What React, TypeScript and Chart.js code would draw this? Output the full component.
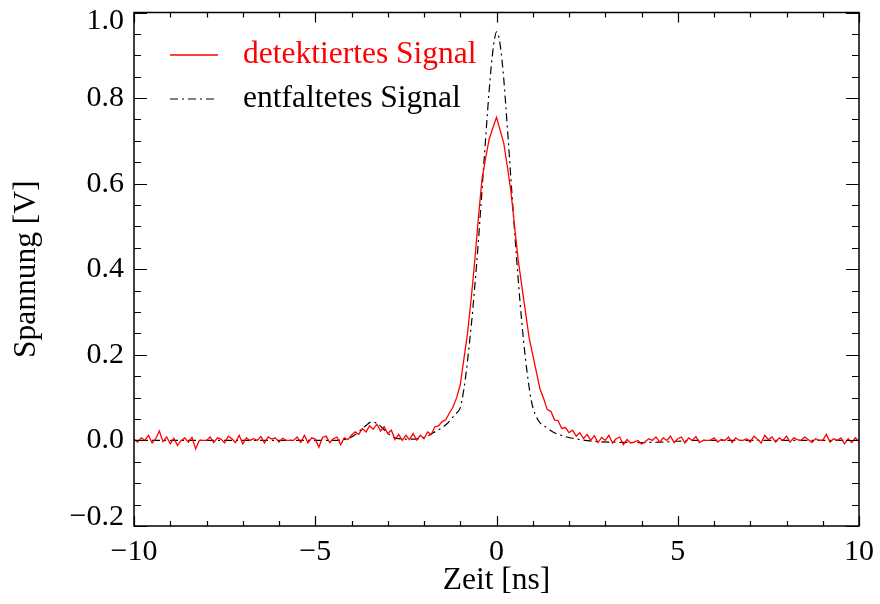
import React, { useEffect, useRef } from "react";
import { Chart, registerables } from "chart.js";

Chart.register(...registerables);

const FONT = "'Liberation Serif', 'Times New Roman', serif";

// axis tick labels
const xTickValues = [-10, -5, 0, 5, 10];
const yTickValues = [-0.2, 0.0, 0.2, 0.4, 0.6, 0.8, 1.0];

const xTitle = "Zeit [ns]";
const yTitle = "Spannung [V]";
const seriesNames = ["detektiertes Signal", "entfaltetes Signal"];

// detected signal: sampled every 0.1 ns from -10 ns to 10 ns
const detectedStart = -10;
const detectedStep = 0.1;
const detectedValues = [
  0.003, -0.004, 0.006, 0.0, 0.012, -0.006, 0.004, 0.022, -0.003, 0.008,
  -0.008, 0.005, -0.012, 0.0, 0.006, -0.004, 0.007, -0.02, 0.0, 0.0,
  0.0, 0.008, -0.005, 0.006, 0.003, -0.006, 0.01, 0.004, -0.005, 0.012,
  -0.008, 0.006, 0.0, 0.004, 0.0, 0.009, -0.006, 0.008, 0.003, 0.006,
  -0.004, 0.005, 0.0, 0.0, 0.0, 0.008, -0.005, 0.012, -0.006, 0.006,
  0.003, -0.016, 0.007, 0.01, -0.005, 0.004, 0.008, -0.01, 0.006, 0.002,
  0.012, 0.02, 0.014, 0.028, 0.02, 0.034, 0.026, 0.038, 0.022, 0.032,
  0.016, 0.024, 0.002, 0.014, 0.0, 0.012, 0.002, 0.016, 0.001, 0.012,
  0.004, 0.02, 0.014, 0.032, 0.034, 0.044, 0.048, 0.064, 0.078, 0.1,
  0.13, 0.19, 0.25, 0.33, 0.42, 0.52, 0.61, 0.66, 0.705, 0.73,
  0.755,
  0.725, 0.695, 0.64, 0.58, 0.5, 0.42, 0.36, 0.3, 0.24, 0.2,
  0.16, 0.12, 0.098, 0.072, 0.068, 0.048, 0.046, 0.028, 0.03, 0.018,
  0.024, 0.01, 0.018, 0.004, 0.014, 0.0, 0.011, -0.005, 0.007, 0.0,
  0.012, -0.006, 0.004, 0.008, -0.01, 0.002, -0.006, -0.004, 0.0, -0.008,
  -0.003, 0.004, 0.0, 0.008, -0.004, 0.006, 0.0, 0.01, -0.005, 0.004,
  0.008, -0.006, 0.006, 0.0, 0.009, -0.005, 0.0, 0.0, 0.0, 0.006,
  -0.004, 0.002, 0.0, 0.008, -0.005, 0.006, 0.0, 0.0, 0.004, -0.004,
  0.01, 0.003, -0.006, 0.012, 0.002, 0.008, -0.004, 0.006, 0.0, 0.01,
  -0.004, 0.006, 0.002, 0.0, 0.008, 0.002, -0.005, 0.004, 0.0, 0.0,
  0.014, -0.004, 0.004, 0.0, 0.006, -0.008, 0.004, -0.005, 0.006, -0.003,
];

// unfolded (deconvolved) signal
const unfoldedTimes = [
  -10, -8, -6, -5, -4.5, -4.2, -4.0, -3.8, -3.6, -3.45, -3.3, -3.1, -2.9, -2.7,
  -2.4, -2.1, -1.9, -1.7, -1.5, -1.35, -1.2, -1.1, -1.0, -0.95, -0.9, -0.85,
  -0.8, -0.75, -0.7, -0.65, -0.6, -0.55, -0.5, -0.45, -0.4, -0.35, -0.3, -0.25,
  -0.2, -0.15, -0.1, -0.05, 0.0, 0.05, 0.1, 0.15, 0.2, 0.25, 0.3, 0.35, 0.4,
  0.45, 0.5, 0.55, 0.6, 0.65, 0.7, 0.75, 0.8, 0.85, 0.9, 0.95, 1.0, 1.15, 1.38,
  1.6, 1.94, 2.3, 2.66, 3.2, 4.0, 4.5, 5.0, 5.5, 6, 8, 10,
];
const unfoldedValues = [
  0, 0, 0, 0, 0, 0.002, 0.008, 0.02, 0.035, 0.043, 0.04, 0.025, 0.01, 0.004,
  0.003, 0.005, 0.01, 0.02, 0.03, 0.04, 0.055, 0.064, 0.076, 0.095, 0.12, 0.15,
  0.185, 0.225, 0.265, 0.31, 0.36, 0.41, 0.465, 0.525, 0.585, 0.645, 0.705, 0.765,
  0.82, 0.87, 0.91, 0.94, 0.955, 0.948, 0.925, 0.89, 0.845, 0.79, 0.73, 0.67, 0.608,
  0.548, 0.488, 0.43, 0.375, 0.322, 0.274, 0.23, 0.19, 0.155, 0.124, 0.098, 0.078, 0.047, 0.03,
  0.018, 0.008, 0.002, -0.002, -0.004, -0.005, -0.004, -0.002, 0, 0, 0, 0,
];

const fmtMinus = (s: string) => s.replace("-", "\u2212");

const framePlugin = {
  id: "frameTicks",
  afterDatasetsDraw(chart: any) {
    const { ctx, chartArea: a, scales } = chart;
    const xs = scales.x;
    const ys = scales.y;
    ctx.save();
    ctx.strokeStyle = "#000";
    ctx.lineWidth = 1.5;
    ctx.strokeRect(a.left, a.top, a.right - a.left, a.bottom - a.top);
    ctx.lineWidth = 1.2;
    ctx.beginPath();
    for (let v = xs.min; v <= xs.max; v += 1) {
      const px = Math.round(xs.getPixelForValue(v)) + 0.5;
      const len = Math.round(v) % 5 === 0 ? 10 : 5;
      ctx.moveTo(px, a.bottom);
      ctx.lineTo(px, a.bottom - len);
      ctx.moveTo(px, a.top);
      ctx.lineTo(px, a.top + len);
    }
    const kMin = Math.round(ys.min / 0.05);
    const kMax = Math.round(ys.max / 0.05);
    for (let k = kMin; k <= kMax; k++) {
      const py = Math.round(ys.getPixelForValue(k * 0.05)) + 0.5;
      const len = k % 4 === 0 ? 13 : 7;
      ctx.moveTo(a.left, py);
      ctx.lineTo(a.left + len, py);
      ctx.moveTo(a.right, py);
      ctx.lineTo(a.right - len, py);
    }
    ctx.stroke();

    // legend
    const ds = chart.data.datasets;
    const rows = [55, 99];
    ctx.font = `31.5px ${FONT}`;
    ctx.textBaseline = "middle";
    ctx.textAlign = "left";
    ds.forEach((d: any, i: number) => {
      const y = rows[i];
      ctx.beginPath();
      ctx.strokeStyle = d.borderColor;
      ctx.lineWidth = d.borderWidth;
      ctx.setLineDash(d.borderDash || []);
      ctx.moveTo(170, y);
      ctx.lineTo(218, y);
      ctx.stroke();
      ctx.setLineDash([]);
      ctx.fillStyle = d.borderColor;
      ctx.fillText(d.label, 243, y);
    });
    ctx.restore();
  },
};

export default function App() {
  const ref = useRef<HTMLCanvasElement | null>(null);
  useEffect(() => {
    if (!ref.current) return;
    const detected = detectedValues.map((y, i) => ({
      x: detectedStart + i * detectedStep,
      y,
    }));
    const unfolded = unfoldedTimes.map((x, i) => ({ x, y: unfoldedValues[i] }));
    const yMin = yTickValues[0];
    const yMax = yTickValues[yTickValues.length - 1];
    const chart = new Chart(ref.current, {
      type: "line",
      data: {
        datasets: [
          {
            label: seriesNames[0],
            data: detected,
            borderColor: "#ff0000",
            borderWidth: 1.3,
            pointRadius: 0,
            tension: 0,
          },
          {
            label: seriesNames[1],
            data: unfolded,
            borderColor: "#000000",
            borderWidth: 1.2,
            borderDash: [8, 4, 2, 4],
            pointRadius: 0,
            tension: 0.4,
            cubicInterpolationMode: "monotone",
          },
        ],
      },
      options: {
        animation: false,
        responsive: false,
        devicePixelRatio: 1,
        layout: { padding: { top: 12.5, right: 21, left: 0, bottom: 0 } },
        plugins: { legend: { display: false }, tooltip: { enabled: false } },
        scales: {
          x: {
            type: "linear",
            min: -10,
            max: 10,
            afterBuildTicks: (s: any) => {
              s.ticks = xTickValues.map((v) => ({ value: v }));
            },
            afterFit: (s: any) => {
              s.height = 78;
              s.paddingLeft = 0;
              s.paddingRight = 0;
            },
            grid: { display: false, drawTicks: false },
            border: { display: false },
            ticks: {
              color: "#000",
              font: { family: FONT, size: 30 },
              padding: 8,
              maxRotation: 0,
              callback: (v: any) => fmtMinus(String(v)),
            },
            title: {
              display: true,
              text: xTitle,
              color: "#000",
              font: { family: FONT, size: 31.5 },
              padding: { top: 0, bottom: 4 },
            },
          },
          y: {
            type: "linear",
            min: yMin,
            max: yMax,
            afterBuildTicks: (s: any) => {
              s.ticks = yTickValues.map((v) => ({ value: v }));
            },
            afterFit: (s: any) => {
              s.width = 134;
              s.paddingTop = 0;
              s.paddingBottom = 0;
            },
            grid: { display: false, drawTicks: false },
            border: { display: false },
            ticks: {
              color: "#000",
              font: { family: FONT, size: 30, lineHeight: 0.6 },
              padding: 10,
              callback: (v: any) => {
                const n = Number(v);
                const r = Math.round(n * 10) / 10;
                const txt = fmtMinus((r === 0 ? 0 : r).toFixed(1));
                // end labels sit just inside the frame, as in the original
                if (Math.abs(n - yMax) < 1e-9) return ["", txt];
                if (Math.abs(n - yMin) < 1e-9) return [txt, ""];
                return txt;
              },
            },
            title: {
              display: true,
              text: yTitle,
              color: "#000",
              font: { family: FONT, size: 31.5 },
              padding: { top: 8, bottom: 0 },
            },
          },
        },
      } as any,
      plugins: [framePlugin],
    });
    return () => chart.destroy();
  }, []);
  return (
    <div style={{ position: "fixed", left: 0, top: 0, width: 880, height: 604, background: "#fff" }}>
      <canvas ref={ref} width={880} height={604} style={{ display: "block" }} />
    </div>
  );
}
